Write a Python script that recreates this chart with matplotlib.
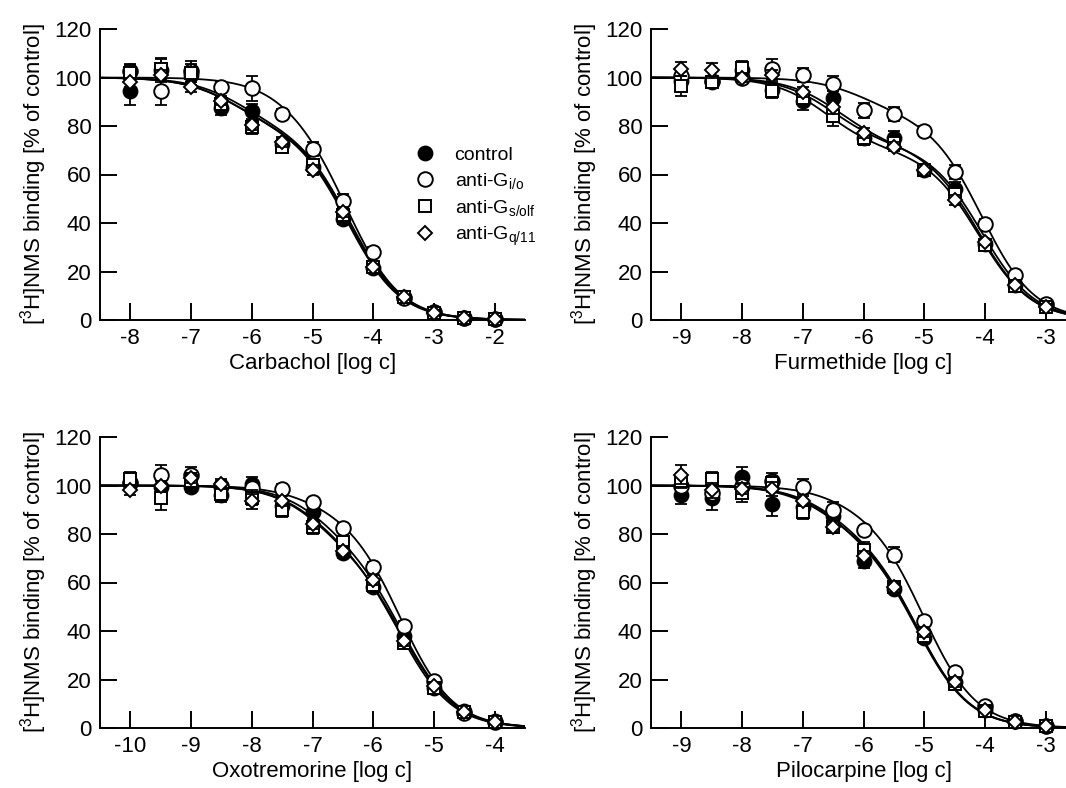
import numpy as np
import matplotlib
matplotlib.use("Agg")
import matplotlib.pyplot as plt
from matplotlib.lines import Line2D

plt.rcParams['font.family'] = ['Liberation Sans', 'DejaVu Sans']
plt.rcParams['mathtext.default'] = 'regular'

# ------------------------------
# Data
# ------------------------------
carb_x = [-8, -7.5, -7, -6.5, -6, -5.5, -5, -4.5, -4, -3.5, -3, -2.5, -2]
carb_ctrl = [94.5, 103, 101, 87.5, 86, 72.5, 63, 41.5, 21.5, 9.5, 3.5, 1, 0.5]
carb_gio = [102.5, 94.5, 102.5, 96, 95.5, 85, 70.5, 49, 28, 9, 3.5, 1, 0.5]
carb_gs = [102, 103.5, 102, 89, 79.5, 71.5, 64, 43.5, 22, 9.5, 3, 1, 0.5]
carb_gq = [98, 101, 96, 90.5, 80.5, 73.5, 62, 44.5, 22, 9.5, 3, 1, 0.5]
carb_ctrl_err = [6, 5, 3, 3, 3, 2, 2, 2, 2, 1, 1, 1, 1]
carb_gio_err = [3, 6, 3, 2, 5, 2, 3, 3, 2, 1, 1, 1, 1]
carb_gs_err = [3, 4, 5, 3, 3, 2, 2, 2, 2, 1, 1, 1, 1]
carb_gq_err = [2, 2, 2, 2, 2, 2, 2, 2, 1, 1, 1, 1, 1]

furm_x = [-9, -8.5, -8, -7.5, -7, -6.5, -6, -5.5, -5, -4.5, -4, -3.5, -3]
furm_ctrl = [98.5, 98, 103, 95, 90.5, 91.5, 75, 75, 62, 54, 31.5, 14.5, 6]
furm_gio = [100.5, 98.5, 100, 103.5, 101, 97.5, 86.5, 85, 78, 61, 39.5, 18.5, 6.5]
furm_gs = [96.5, 98, 104, 94.5, 91.5, 84, 75, 73, 62, 52, 31, 14, 5.5]
furm_gq = [103.5, 103, 100, 101, 94, 88, 77, 71.5, 62, 49.5, 32, 14.5, 5.5]
furm_ctrl_err = [3, 2, 3, 3, 4, 3, 3, 3, 2, 3, 2, 2, 1]
furm_gio_err = [3, 2, 2, 4, 3, 3, 3, 3, 2, 3, 2, 1, 1]
furm_gs_err = [4, 2, 3, 3, 3, 4, 3, 3, 2, 2, 2, 2, 1]
furm_gq_err = [3, 3, 2, 2, 2, 3, 2, 2, 2, 2, 1, 1, 1]

oxo_x = [-10, -9.5, -9, -8.5, -8, -7.5, -7, -6.5, -6, -5.5, -5, -4.5, -4]
oxo_ctrl = [101.5, 99.5, 99.5, 96, 100.5, 91.5, 89, 72, 58, 38, 16.5, 7, 3]
oxo_gio = [101, 104.5, 104.5, 100, 99, 98.5, 93, 82.5, 66.5, 42, 19.5, 6, 2.5]
oxo_gs = [102.5, 95, 102, 96.5, 95, 90, 83, 76.5, 59, 35, 16.5, 6.5, 2.5]
oxo_gq = [98, 100, 103, 100.5, 93.5, 93.5, 84, 73, 61, 36, 17.5, 6.5, 2.5]
oxo_ctrl_err = [3, 3, 2, 3, 3, 3, 3, 2, 2, 2, 2, 1, 1]
oxo_gio_err = [2, 4, 3, 2, 2, 2, 2, 2, 2, 2, 1, 1, 1]
oxo_gs_err = [3, 5, 3, 3, 3, 3, 3, 2, 2, 2, 2, 1, 1]
oxo_gq_err = [2, 2, 2, 2, 3, 2, 2, 2, 2, 2, 1, 1, 1]

pilo_x = [-9, -8.5, -8, -7.5, -7, -6.5, -6, -5.5, -5, -4.5, -4, -3.5, -3]
pilo_ctrl = [96, 95, 103.5, 92.5, 91, 87.5, 69, 57.5, 37, 19, 7.5, 3, 1]
pilo_gio = [100, 97, 100, 102, 99.5, 90, 81.5, 71.5, 44, 23, 9, 3, 1]
pilo_gs = [102, 102.5, 97, 101, 89, 83, 73.5, 58, 38, 18, 7, 2.5, 1]
pilo_gq = [104.5, 98, 98.5, 98.5, 93.5, 83, 71, 58, 39.5, 19, 7.5, 2.5, 1]
pilo_ctrl_err = [3.5, 5, 4, 5, 3, 3, 3, 2, 2, 2, 1, 1, 1]
pilo_gio_err = [3, 3, 3, 3, 3, 3, 2, 3, 2, 2, 1, 1, 1]
pilo_gs_err = [3, 3, 4, 3, 3, 2, 3, 2, 2, 2, 1, 1, 1]
pilo_gq_err = [4, 3, 2, 3, 2, 2, 2, 2, 2, 2, 1, 1, 1]

# two-site fit parameters: fraction high affinity, log K high, log K low
# order: control, anti-Gi/o, anti-Gs/olf, anti-Gq/11
carb_fit = [(0.20, -6.3, -4.40), (0.15, -5.3, -4.40), (0.20, -6.3, -4.42), (0.20, -6.2, -4.38)]
furm_fit = [(0.28, -6.5, -4.05), (0.15, -6.0, -4.05), (0.30, -6.6, -4.10), (0.28, -6.4, -4.10)]
oxo_fit = [(0.25, -6.8, -5.50), (0.10, -7.0, -5.55), (0.25, -6.9, -5.55), (0.27, -6.9, -5.50)]
pilo_fit = [(0.20, -6.5, -5.10), (0.10, -6.3, -5.00), (0.20, -6.6, -5.10), (0.22, -6.5, -5.10)]

labels = ['control', 'anti-G$_{i/o}$', 'anti-G$_{s/olf}$', 'anti-G$_{q/11}$']


def two_site(x, f, kh, kl):
    return 100 * (f / (1 + 10 ** (x - kh)) + (1 - f) / (1 + 10 ** (x - kl)))


# marker styles: control, Gi/o, Gs/olf, Gq/11
styles = [dict(marker='o', mfc='black', ms=10),
          dict(marker='o', mfc='white', ms=10.5),
          dict(marker='s', mfc='white', ms=8.5),
          dict(marker='D', mfc='white', ms=7)]
draw_order = [1, 2, 0, 3]

fig = plt.figure(figsize=(10.66, 7.88), dpi=100)

panels = [
    (carb_x, [carb_ctrl, carb_gio, carb_gs, carb_gq],
     [carb_ctrl_err, carb_gio_err, carb_gs_err, carb_gq_err], carb_fit,
     (-8.5, -1.5), range(-8, -1), 'Carbachol [log c]', [100, 320]),
    (furm_x, [furm_ctrl, furm_gio, furm_gs, furm_gq],
     [furm_ctrl_err, furm_gio_err, furm_gs_err, furm_gq_err], furm_fit,
     (-9.5, -2.5), range(-9, -2), 'Furmethide [log c]', [651, 320]),
    (oxo_x, [oxo_ctrl, oxo_gio, oxo_gs, oxo_gq],
     [oxo_ctrl_err, oxo_gio_err, oxo_gs_err, oxo_gq_err], oxo_fit,
     (-10.5, -3.5), range(-10, -3), 'Oxotremorine [log c]', [100, 728]),
    (pilo_x, [pilo_ctrl, pilo_gio, pilo_gs, pilo_gq],
     [pilo_ctrl_err, pilo_gio_err, pilo_gs_err, pilo_gq_err], pilo_fit,
     (-9.5, -2.5), range(-9, -2), 'Pilocarpine [log c]', [651, 728]),
]

W, H = 1066, 788
for i, (xs, ys, errs, fits, xlim, xt, xlab, (px, py)) in enumerate(panels):
    ax = fig.add_axes([px / W, 1 - py / H, 425 / W, 291 / H])
    xx = np.linspace(xlim[0], xlim[1], 300)
    for f, kh, kl in fits:
        ax.plot(xx, two_site(xx, f, kh, kl), color='black', lw=1.3, zorder=2)
    for k in draw_order:
        st = styles[k]
        ax.errorbar(xs, ys[k], yerr=errs[k], fmt='none', ecolor='black',
                    elinewidth=1.3, capsize=4.5, capthick=1.3, zorder=3 + k)
        ax.plot(xs, ys[k], ls='none', marker=st['marker'], mfc=st['mfc'],
                mec='black', mew=1.4, ms=st['ms'], zorder=3 + k, clip_on=False)
    ax.set_xlim(*xlim)
    ax.set_ylim(0, 120)
    ax.set_xticks(list(xt))
    ax.set_xticklabels([str(v) for v in xt])
    ax.set_yticks(range(0, 121, 20))
    ax.spines['top'].set_visible(False)
    ax.spines['right'].set_visible(False)
    for s in ['left', 'bottom']:
        ax.spines[s].set_linewidth(1.4)
    ax.tick_params(direction='in', length=12, width=1.4, labelsize=16)
    ax.tick_params(axis='x', pad=6)
    ax.tick_params(axis='y', pad=6)
    ax.set_xlabel(xlab, fontsize=16, labelpad=3)
    ax.set_ylabel('[$^{3}$H]NMS binding [% of control]', fontsize=16, labelpad=4)

    if i == 0:
        handles = [Line2D([], [], ls='none', marker=styles[k]['marker'],
                          mfc=styles[k]['mfc'], mec='black', mew=1.4,
                          ms=styles[k]['ms']) for k in range(4)]
        ax.legend(handles, labels, loc='upper left', bbox_to_anchor=(0.72, 0.63),
                  frameon=False, fontsize=14, handlelength=1.0,
                  handletextpad=1.0, labelspacing=0.35, borderpad=0)

fig.savefig('out.png', dpi=100)
